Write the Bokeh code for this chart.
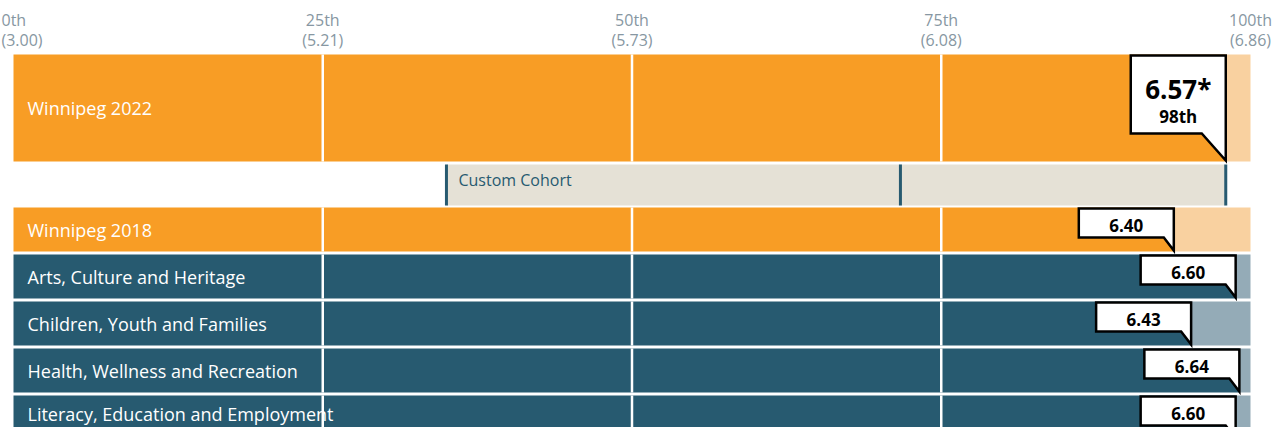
from bokeh.plotting import figure
from bokeh.models import Range1d, ColumnDataSource
from bokeh.core.properties import value
from bokeh.embed import file_html
from bokeh.resources import INLINE

# ---------------- data ----------------
tick_pct = [0, 25, 50, 75, 100]
tick_names = ["0th", "25th", "50th", "75th", "100th"]
tick_scores = ["(3.00)", "(5.21)", "(5.73)", "(6.08)", "(6.86)"]

row_labels = ["Winnipeg 2022", "Winnipeg 2018", "Arts, Culture and Heritage",
              "Children, Youth and Families", "Health, Wellness and Recreation",
              "Literacy, Education and Employment"]
row_scores = ["6.57*", "6.40", "6.60", "6.43", "6.64", "6.60"]
row_pct = [98, 93.8, 98.8, 95.2, 99.1, 98.8]
row_group = ["city", "city", "sector", "sector", "sector", "sector"]
headline_rank = "98th"

cohort_label = "Custom Cohort"
cohort_pct = [35, 71.7, 98]  # min, median, max

# ---------------- layout / style ----------------
W, H = 1275, 427
PX = 12.37                      # pixels per percentile point
X0 = -13 / PX
X1 = 100 + (W - 1250) / PX
row_top = [54, 207, 254, 301, 348, 395]
row_bot = [161, 251, 298, 345, 392, 439]
coh_top, coh_bot = 164, 205

dark = {"city": "#F89D25", "sector": "#275A70"}
light = {"city": "#F9D1A0", "sector": "#94ABB7"}
grey_text = "#8797A2"
teal = "#275A70"
FONT = value("Open Sans")

p = figure(width=W, height=H, output_backend="svg", toolbar_location=None,
           x_range=Range1d(X0, X1), y_range=Range1d(H, 0),
           min_border=0, outline_line_color=None)
p.axis.visible = False
p.grid.visible = False
p.background_fill_color = "white"
p.border_fill_color = "white"

# axis labels on top (first one kept inside the left edge)
tick_x = [X0 + 1 / PX] + list(tick_pct[1:])
tick_align = ["left"] + ["center"] * (len(tick_pct) - 1)
ticks = ColumnDataSource(dict(x=tick_x, name=tick_names, score=tick_scores,
                              align=tick_align, y1=[19] * 5, y2=[39] * 5))
p.text(x="x", y="y1", text="name", text_align="align", source=ticks, text_font=FONT,
       text_font_size="16px", text_color=grey_text, text_baseline="middle")
p.text(x="x", y="y2", text="score", text_align="align", source=ticks, text_font=FONT,
       text_font_size="16px", text_color=grey_text, text_baseline="middle")

# bars
bars = ColumnDataSource(dict(
    pct=row_pct, zero=[0] * 6, hundred=[100] * 6, top=row_top, bot=row_bot,
    dark=[dark[g] for g in row_group], light=[light[g] for g in row_group]))
p.quad(left="zero", right="pct", top="top", bottom="bot", fill_color="dark",
       line_color=None, source=bars)
p.quad(left="pct", right="hundred", top="top", bottom="bot", fill_color="light",
       line_color=None, source=bars)

# white gridlines on bars
gx, gy0, gy1 = [], [], []
for t, b in zip(row_top, row_bot):
    for v in tick_pct[1:-1]:
        gx.append(v); gy0.append(t); gy1.append(b)
p.segment(x0=gx, x1=gx, y0=gy0, y1=gy1, line_color="white", line_width=2.5)

# cohort row
p.quad(left=[cohort_pct[0]], right=[cohort_pct[2]], top=[coh_top], bottom=[coh_bot],
       fill_color="#E5E1D6", line_color=None)
p.segment(x0=cohort_pct, x1=cohort_pct, y0=[coh_top] * 3, y1=[coh_bot] * 3,
          line_color=teal, line_width=3)
p.text(x=[cohort_pct[0] + 12 / PX], y=[coh_top + 15.5], text=[cohort_label], text_font=FONT,
       text_font_size="16px", text_color=teal, text_align="left", text_baseline="middle")

# row labels (kept inside the visible frame)
label_y = [min((t + b) / 2, H - 14) for t, b in zip(row_top, row_bot)]
p.text(x=[14 / PX] * 6, y=label_y, text=row_labels,
       text_font=FONT, text_font_size="18px", text_color="white", text_align="left",
       text_baseline="middle")

# callouts
xs, ys = [], []
for i, (pct, t, b) in enumerate(zip(row_pct, row_top, row_bot)):
    R = pct
    L = pct - 95 / PX
    if i == 0:
        T, B, tip, tw = t + 1, t + 79, b - 1, 24
    else:
        T, B, tip, tw = t + 1, t + 30, b - 1, 10
    xs.append([L, R, R, R - tw / PX, L])
    ys.append([T, T, tip, B, B])
p.patches(xs=xs, ys=ys, fill_color="white", line_color="black", line_width=2.5,
          line_join="miter")

cx = [pct - 47.5 / PX for pct in row_pct]
p.text(x=cx[:1], y=[row_top[0] + 34], text=row_scores[:1], text_font=FONT,
       text_font_size="26px", text_font_style="bold", text_color="black",
       text_align="center", text_baseline="middle")
p.text(x=cx[:1], y=[row_top[0] + 62], text=[headline_rank], text_font=FONT,
       text_font_size="17px", text_font_style="bold", text_color="black",
       text_align="center", text_baseline="middle")
p.text(x=cx[1:], y=[t + 18 for t in row_top[1:]], text=row_scores[1:], text_font=FONT,
       text_font_size="17px", text_font_style="bold", text_color="black",
       text_align="center", text_baseline="middle")

open("out.html", "w").write(file_html(p, INLINE))
